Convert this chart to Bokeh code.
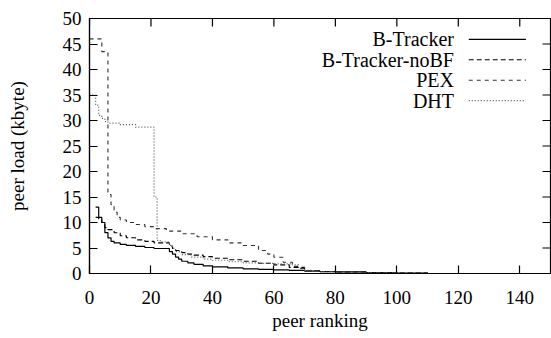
from bokeh.plotting import figure
from bokeh.models import FixedTicker, Range1d
from bokeh.core.properties import value
from bokeh.embed import file_html
from bokeh.resources import INLINE

# ---- data ----
series_names = ["B-Tracker", "B-Tracker-noBF", "PEX", "DHT"]

bt_x = [2, 3, 4, 5, 6, 7, 8, 10, 12, 15, 18, 21, 26, 27, 28, 29, 30, 32, 34, 37, 40,
        45, 50, 55, 60, 65, 70, 75, 80, 90, 100, 110]
bt_y = [13, 11, 10, 8, 7, 6.3, 6.0, 5.7, 5.5, 5.3, 5.1, 4.9, 4.3, 3.8, 3.2, 2.8, 2.4, 2.1, 1.8, 1.5, 1.3,
        1.1, 0.9, 0.8, 0.7, 0.6, 0.45, 0.35, 0.3, 0.2, 0.1, 0.03]

nb_x = [2, 3, 4, 5, 6, 8, 10, 12, 15, 18, 21, 26, 27, 28, 30, 32, 34, 37, 40,
        45, 50, 55, 60, 65, 70, 75, 80, 90, 100, 110]
nb_y = [11, 10.5, 10, 9, 8.6, 8.0, 7.4, 7.0, 6.6, 6.3, 6.0, 5.4, 4.9, 4.5, 4.1, 3.8, 3.6, 3.3, 3.0,
        2.7, 2.4, 2.0, 1.7, 1.2, 0.6, 0.4, 0.3, 0.2, 0.1, 0.03]

px_x = [0, 4, 6, 7, 8, 9, 10, 12, 15, 18, 21, 25, 30, 35, 40, 45, 50, 55, 58, 60,
        63, 66, 68, 70, 75, 80, 90, 100, 110]
px_y = [46, 43.5, 15.5, 13.5, 12, 11, 10.5, 10.0, 9.6, 9.2, 8.8, 8.3, 7.8, 7.2, 6.6, 6.0, 5.5, 4.5, 3.8, 3.2,
        2.2, 1.4, 1.0, 0.6, 0.4, 0.3, 0.2, 0.1, 0.03]

dh_x = [0, 2, 3, 4, 5, 6, 10, 15, 21, 22, 23, 26, 27, 28, 30, 33, 37, 40, 45, 50,
        55, 60, 66, 68, 70, 72, 75, 80, 90, 100, 110]
dh_y = [35, 33, 31, 30.4, 29.8, 29.5, 29.2, 28.7, 15, 6.5, 6.2, 5.5, 5.0, 4.3, 3.7, 3.2, 2.8, 2.6, 2.3, 2.1,
        2.0, 1.9, 1.7, 1.2, 0.6, 0.4, 0.3, 0.25, 0.15, 0.08, 0.02]

x_ticks = [0, 20, 40, 60, 80, 100, 120, 140]
y_ticks = [0, 5, 10, 15, 20, 25, 30, 35, 40, 45, 50]

# ---- styling / layout ----
FONT = "Liberation Serif"
FS = "19px"
LEG_FS = "20px"
W, H = 551, 338
BL, BR, BT, BB = 89, 1, 18, 65
X0, X1, Y0, Y1 = 0, 150, 0, 50
TICK = 8  # px
dashes = ["solid", "5 3", "4 4", "1 2"]
colors = ["black", "black", "#333333", "#555555"]
widths = [1.2, 1.1, 1.1, 1.2]

p = figure(width=W, height=H, output_backend="svg", toolbar_location=None,
           x_range=Range1d(X0, X1), y_range=Range1d(Y0, Y1),
           min_border_left=BL, min_border_right=BR, min_border_top=BT, min_border_bottom=BB,
           x_axis_label="peer ranking", y_axis_label="peer load (kbyte)")
p.grid.visible = False
p.outline_line_color = "black"
p.outline_line_width = 1.2
p.background_fill_color = "white"
p.border_fill_color = "white"

for ax, ticks in ((p.xaxis[0], x_ticks), (p.yaxis[0], y_ticks)):
    ax.ticker = FixedTicker(ticks=ticks)
    ax.minor_tick_line_color = None
    ax.major_tick_in = TICK
    ax.major_tick_out = 0
    ax.axis_line_color = "black"
    ax.axis_line_width = 1.2
    ax.major_tick_line_width = 1.2
    ax.major_label_text_font = FONT
    ax.major_label_text_font_size = FS
    ax.major_label_text_color = "black"
    ax.axis_label_text_font = FONT
    ax.axis_label_text_font_size = FS
    ax.axis_label_text_font_style = "normal"
    ax.axis_label_text_color = "black"

p.xaxis.major_label_standoff = 17
p.xaxis.axis_label_standoff = 3
p.yaxis.major_label_standoff = 8
p.yaxis.axis_label_standoff = 32

# mirrored ticks on top and right (lengths converted from px to data units)
fw = W - BL - BR
fh = H - BT - BB
dy_tick = TICK * (Y1 - Y0) / fh
dx_tick = TICK * (X1 - X0) / fw
p.segment(x0=x_ticks, y0=[Y1] * len(x_ticks), x1=x_ticks, y1=[Y1 - dy_tick] * len(x_ticks),
          line_color="black", line_width=1.2)
p.segment(x0=[X1] * len(y_ticks), y0=y_ticks, x1=[X1 - dx_tick] * len(y_ticks), y1=y_ticks,
          line_color="black", line_width=1.2)

series = [(bt_x, bt_y), (nb_x, nb_y), (px_x, px_y), (dh_x, dh_y)]
for (xs, ys), d, c, w in zip(series, dashes, colors, widths):
    p.step(xs, ys, mode="after", line_color=c, line_dash=d, line_width=w)

# ---- legend (label then sample, gnuplot style) ----
leg_text_x = 118.6
leg_s0, leg_s1 = 123.4, 142.0
leg_top = 45.9
leg_step = 4.0
leg_y = [leg_top - i * leg_step for i in range(len(series_names))]
p.text(x=[leg_text_x] * len(series_names), y=leg_y, text=series_names,
       text_font=value(FONT), text_font_size=LEG_FS, text_align="right",
       text_baseline="middle", text_color="black")
for i, (d, c, w) in enumerate(zip(dashes, colors, widths)):
    p.line([leg_s0, leg_s1], [leg_y[i], leg_y[i]], line_color=c, line_dash=d, line_width=w)

open("out.html", "w").write(file_html(p, INLINE))
